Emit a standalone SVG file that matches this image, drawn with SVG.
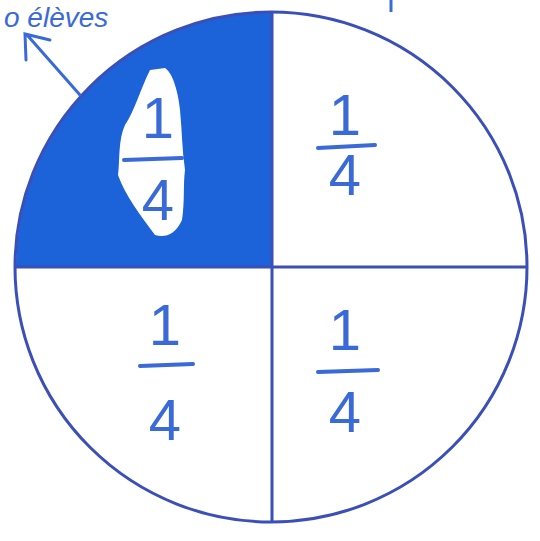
<svg xmlns="http://www.w3.org/2000/svg" width="540" height="541" viewBox="0 0 540 541">
<style>
.num{font-family:"Liberation Sans",sans-serif;font-size:58px;fill:#3a6ad8;text-anchor:middle}
.bar{stroke:#3a6ad8;stroke-width:4;stroke-linecap:round;fill:none}
.ink{stroke:#3b4fb8;stroke-width:3;fill:none}
</style>
<rect width="540" height="541" fill="#ffffff"/>
<g id="shaded">
<path d="M272,267 L16,267 A256,255 0 0 1 272,12 Z" fill="#1c62d8"/>
<path d="M150,70 C140,90 135,110 125,125 C118,140 120,160 118,175 C125,195 140,215 155,235 C165,238 175,235 182,220 C185,200 183,185 185,170 C182,150 182,130 180,110 C178,90 172,72 165,68 Z" fill="#ffffff"/>
</g>
<g id="circle">
<ellipse class="ink" cx="271" cy="267" rx="256" ry="255"/>
</g>
<g id="connectors">
<line class="ink" x1="272" y1="12" x2="272" y2="522"/>
<line class="ink" x1="15" y1="267" x2="527" y2="267"/>
<path d="M80,95 L28,36 M26,60 L25,34 L50,40" stroke="#3a6ad8" stroke-width="3" fill="none" stroke-linecap="round"/>
<line x1="391" y1="0" x2="391" y2="12" stroke="#3a6ad8" stroke-width="3"/>
</g>
<g id="label-top">
<text x="4" y="27" font-family="Liberation Sans,sans-serif" font-size="28" fill="#3a6ad8" font-style="italic">o élèves</text>
</g>
<g id="q-tl">
<text class="num" x="158" y="138">1</text>
<line class="bar" x1="124" y1="160" x2="182" y2="158"/>
<text class="num" x="158" y="220">4</text>
</g>
<g id="q-tr">
<text class="num" x="345" y="135">1</text>
<line class="bar" x1="318" y1="148" x2="375" y2="145"/>
<text class="num" x="345" y="195">4</text>
</g>
<g id="q-bl">
<text class="num" x="165" y="345">1</text>
<line class="bar" x1="140" y1="366" x2="193" y2="364"/>
<text class="num" x="165" y="440">4</text>
</g>
<g id="q-br">
<text class="num" x="345" y="350">1</text>
<line class="bar" x1="318" y1="372" x2="378" y2="370"/>
<text class="num" x="345" y="432">4</text>
</g>
</svg>
